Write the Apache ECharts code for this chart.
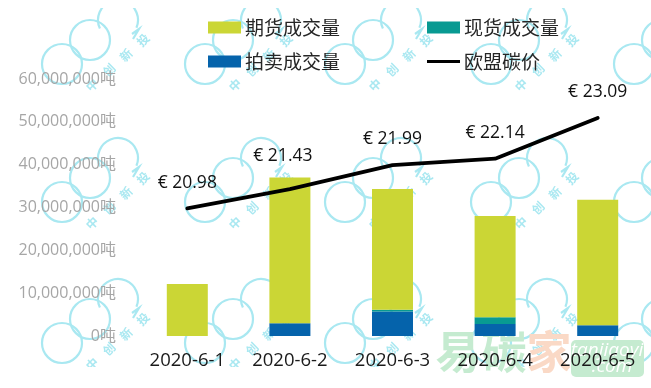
<!DOCTYPE html>
<html><head><meta charset="utf-8">
<style>html,body{margin:0;padding:0;background:#fff}#c{width:651px;height:388px}</style>
<script src="https://cdn.jsdelivr.net/npm/echarts@6/dist/echarts.min.js"></script>
</head><body><div id="c"></div>
<script>
const categories = ['2020-6-1','2020-6-2','2020-6-3','2020-6-4','2020-6-5'];
const auctionVol = [0, 2950000, 5700000, 2800000, 2500000];
const spotVol = [0, 0, 400000, 1600000, 0];
const futuresVol = [12150000, 34050000, 28200000, 23600000, 29300000];
const euaPrice = [20.98, 21.43, 21.99, 22.14, 23.09];

const font = '"Open Sans","Noto Sans CJK SC",sans-serif';
const cjk = '"Noto Sans CJK SC",sans-serif';
const wmColor = '#a9e8f1';
const wm = [];
const colsX = [62, 205, 345, 491, 634];
const rowsY = [64, 202, 343];
const shapeStyle = {fill:'none', stroke:wmColor, lineWidth:2.2};
colsX.forEach(x => rowsY.forEach(y => {
  const g = (type, shape, extra) => wm.push(Object.assign({type, z:-2, shape, style:shapeStyle, silent:true}, extra||{}));
  g('circle', {cx:x, cy:y, r:20});
  g('circle', {cx:x+28, cy:y-24, r:20});
  g('arc', {cx:x+56, cy:y-44, r:20, startAngle:0.4, endAngle:2.7, clockwise:false});
  g('polyline', {points:[[x+70,y-30],[x+77,y-35],[x+71,y-25]]});
  ['中','创','新','投'].forEach((t,i) => wm.push({type:'text', z:-2, silent:true, rotation:Math.PI/4,
    x:x+30+i*17, y:y+21-i*15,
    style:{text:t, fill:'#a9e8f1', font:'bold 12px '+cjk, align:'center', verticalAlign:'middle'}}));
}));
wm.push({type:'rect', z:-1, silent:true, shape:{x:0,y:0,width:651,height:8}, style:{fill:'#fff'}});
wm.push({type:'rect', z:-1, silent:true, shape:{x:0,y:367,width:651,height:21}, style:{fill:'#fff'}});
[['易',458,'#c5ebd0'],['碳',504,'#c5ebd0'],['家',549,'#fad9c6']].forEach(a =>
  wm.push({type:'text', z:-0.5, silent:true, x:a[1], y:352,
    style:{text:a[0], fill:a[2], font:'bold 45px '+cjk, align:'center', verticalAlign:'middle'}}));
wm.push({type:'rect', z:-0.6, silent:true, shape:{x:571,y:340,width:73,height:37,r:5}, style:{fill:'#c5ebd0'}});
wm.push({type:'text', z:-0.5, silent:true, x:607, y:351, style:{text:'tanjiaoyi', fill:'#fff', font:'italic 19px '+font, align:'center', verticalAlign:'middle'}});
wm.push({type:'text', z:-0.5, silent:true, x:612, y:367, style:{text:'.com', fill:'#fff', font:'italic 19px '+font, align:'center', verticalAlign:'middle'}});

const legendBase = {left:208, padding:0, itemWidth:33, itemHeight:12, itemGap:87, orient:'horizontal', icon:'rect',
  textStyle:{fontSize:19, fontFamily:cjk, color:'#262626', padding:[0,0,0,-1]}};
const lineIcon = 'path://M0 0H0V12H0ZM0 4.5H33V7.5H0Z';

const chart = echarts.init(document.getElementById('c'), null, {renderer:'canvas'});
chart.setOption({
  animation:false,
  backgroundColor:'#fff',
  graphic:wm,
  legend:[
    Object.assign({}, legendBase, {top:18, data:['期货成交量','现货成交量']}),
    Object.assign({}, legendBase, {top:52, data:['拍卖成交量',{name:'欧盟碳价', icon:lineIcon}]})
  ],
  grid:{left:136, right:2, top:79, height:257, containLabel:false},
  xAxis:{type:'category', data:categories, axisLine:{show:false}, axisTick:{show:false},
    axisLabel:{fontSize:18.5, fontFamily:font, color:'#1a1a1a', margin:15, interval:0}},
  yAxis:[
    {type:'value', min:0, max:60000000, interval:10000000, splitLine:{show:false}, axisLine:{show:false}, axisTick:{show:false},
     axisLabel:{fontSize:16, fontFamily:font, color:'#a6a6a6', margin:20, formatter:v => v.toLocaleString('en-US')+'吨'}},
    {type:'value', min:18, max:24, interval:1, show:false, splitLine:{show:false}}
  ],
  series:[
    {name:'拍卖成交量', type:'bar', stack:'v', data:auctionVol, barWidth:41, itemStyle:{color:'#0563ab'}},
    {name:'现货成交量', type:'bar', stack:'v', data:spotVol, itemStyle:{color:'#089a92'}},
    {name:'期货成交量', type:'bar', stack:'v', data:futuresVol, itemStyle:{color:'#cbd635'}},
    {name:'欧盟碳价', type:'line', yAxisIndex:1, symbol:'circle', symbolSize:0, z:5, showSymbol:true,
     data:euaPrice.map((v,i) => ({value:v, label:{offset: i===1 ? [-7,-7] : [0,0]}})),
     lineStyle:{color:'#000', width:3.8, cap:'round'}, itemStyle:{color:'#000'},
     label:{show:true, position:'top', distance:17, fontSize:17.5, fontFamily:font, color:'#111',
       formatter:p => '€ '+Number(p.value).toFixed(2)}}
  ]
});
</script></body></html>
